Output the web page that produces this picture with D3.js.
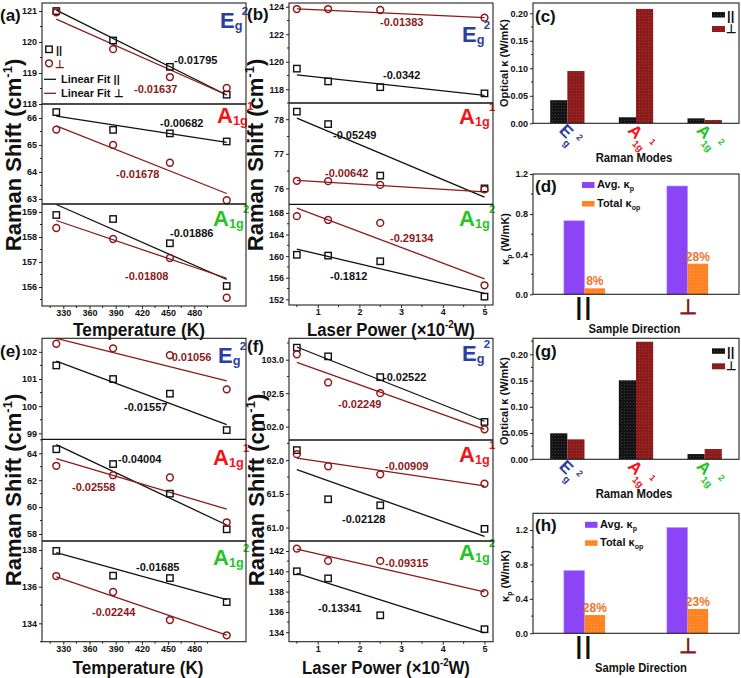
<!DOCTYPE html>
<html>
<head>
<meta charset="utf-8">
<script src="https://cdn.jsdelivr.net/npm/d3@7"></script>
<style>
html,body{margin:0;padding:0;background:#fff;}
svg{display:block;}
text{font-family:"Liberation Sans",Arial,Helvetica,sans-serif;font-weight:bold;}
</style>
</head>
<body>
<svg id="chart" width="741" height="678"></svg>
<script>
// ================= DATA =================
const temps = [323, 373, 423, 473];
const tempFitEnds = [323, 473];
const tempTicks = [330, 360, 390, 420, 450, 480];
const powers = [0.5, 1.25, 2.5, 5];
const powerFitEnds = [0.5, 5];
const powerTicks = [1, 2, 3, 4, 5];

const modes = ["Eg2", "A1g1", "A1g2"];
const modeMain = ["E", "A", "A"];
const modeSub = ["g", "1g", "1g"];
const modeSup = ["2", "1", "2"];

// (a) temperature, sample 1
const aEgPar = [121.0, 120.05, 119.2, 118.3];
const aEgPerp = [120.96, 119.77, 118.87, 118.52];
const aEgFitPar = [121.03, 118.29];
const aEgFitPerp = [120.74, 118.29];
const aEgSlopes = ["-0.01795", "-0.01637"];
const aA1Par = [66.22, 65.56, 65.43, 65.13];
const aA1Perp = [65.57, 65.0, 64.34, 62.95];
const aA1FitPar = [66.07, 65.1];
const aA1FitPerp = [65.71, 63.2];
const aA1Slopes = ["-0.00682", "-0.01678"];
const aA2Par = [158.88, 158.72, 157.75, 156.04];
const aA2Perp = [158.36, 157.92, 157.16, 155.57];
const aA2FitPar = [159.3, 156.3];
const aA2FitPerp = [158.66, 156.35];
const aA2Slopes = ["-0.01886", "-0.01808"];

// (b) laser power, sample 1
const bEgPar = [119.5, 118.57, 118.15, 117.7];
const bEgPerp = [123.83, 123.83, 123.76, 123.2];
const bEgFitPar = [119.05, 117.55];
const bEgFitPerp = [123.84, 123.2];
const bEgSlopes = ["-0.0342", "-0.01383"];
const bA1Par = [78.22, 77.86, 76.37, 76.0];
const bA1Perp = [76.22, 76.21, 76.1, 75.97];
const bA1FitPar = [78.03, 75.75];
const bA1FitPerp = [76.23, 75.9];
const bA1Slopes = ["-0.05249", "-0.00642"];
const bA2Par = [160.25, 160.1, 159.05, 152.5];
const bA2Perp = [167.4, 166.7, 166.15, 154.6];
const bA2FitPar = [161.3, 153.1];
const bA2FitPerp = [168.9, 155.8];
const bA2Slopes = ["-0.1812", "-0.29134"];

// (c) optical kappa per mode, sample 1
const cPar = [0.042, 0.011, 0.009];
const cPerp = [0.095, 0.208, 0.006];

// (d) phonon kappa per direction, sample 1
const directions = ["||", "⊥"];
const dAvg = [0.733, 1.08];
const dTotal = [0.06, 0.305];
const dPct = ["8%", "28%"];

// (e) temperature, sample 2
const eEgPar = [101.5, 101.0, 100.46, 99.12];
const eEgPerp = [102.3, 102.13, 101.88, 100.62];
const eEgFitPar = [101.66, 99.32];
const eEgFitPerp = [102.5, 100.93];
const eEgSlopes = ["-0.01557", "-0.01056"];
const eA1Par = [64.3, 63.2, 61.0, 58.35];
const eA1Perp = [63.07, 62.37, 62.2, 58.87];
const eA1FitPar = [64.65, 58.67];
const eA1FitPerp = [63.6, 59.85];
const eA1Slopes = ["-0.04004", "-0.02558"];
const eA2Par = [137.95, 136.6, 136.47, 135.16];
const eA2Perp = [136.58, 135.71, 134.18, 133.35];
const eA2FitPar = [137.85, 135.3];
const eA2FitPerp = [136.54, 133.36];
const eA2Slopes = ["-0.01685", "-0.02244"];

// (f) laser power, sample 2
const fEgPar = [103.18, 103.05, 102.74, 102.07];
const fEgPerp = [103.08, 102.66, 102.5, 101.96];
const fEgFitPar = [103.19, 102.08];
const fEgFitPerp = [102.96, 101.96];
const fEgSlopes = ["-0.02522", "-0.02249"];
const fA1Par = [62.15, 61.42, 61.33, 60.98];
const fA1Perp = [62.09, 61.91, 61.79, 61.65];
const fA1FitPar = [61.86, 60.87];
const fA1FitPerp = [62.03, 61.62];
const fA1Slopes = ["-0.02128", "-0.00909"];
const fA2Par = [140.0, 139.3, 135.67, 134.3];
const fA2Perp = [142.23, 141.02, 141.02, 137.85];
const fA2FitPar = [139.8, 133.95];
const fA2FitPerp = [142.17, 137.98];
const fA2Slopes = ["-0.13341", "-0.09315"];

// (g) optical kappa per mode, sample 2
const gPar = [0.0495, 0.1505, 0.010];
const gPerp = [0.038, 0.224, 0.0196];

// (h) phonon kappa per direction, sample 2
const hAvg = [0.728, 1.228];
const hTotal = [0.213, 0.283];
const hPct = ["28%", "23%"];

// ================= STYLE =================
const FONT = '"Liberation Sans", Arial, Helvetica, sans-serif';
const BLK = "#111", DRED = "#8b1a1a", BLUE = "#2c3e9e", RED = "#f2141b", GREEN = "#25c425";
const PURPLE = "#8b45f6", ORANGE = "#ff8424", PCT = "#f0742a";

const svg = d3.select("#chart");
const defs = svg.append("defs");
function pattern(id, base, dot) {
  const p = defs.append("pattern").attr("id", id).attr("width", 3).attr("height", 3)
    .attr("patternUnits", "userSpaceOnUse");
  p.append("rect").attr("width", 3).attr("height", 3).attr("fill", base);
  p.append("rect").attr("width", 1).attr("height", 1).attr("fill", dot);
}
pattern("pBlack", "#141414", "#3c3c3c");
pattern("pRed", "#8c1b1b", "#a13131");
pattern("pOrange", "#ff8222", "#ff9b4a");

function styleAxis(sel, size) {
  sel.attr("font-family", FONT).attr("font-size", size).attr("font-weight", "bold");
  sel.selectAll("path.domain").remove();
  sel.selectAll(".tick line").attr("stroke", "#222");
  sel.selectAll(".tick text").attr("fill", "#111");
}

function modeText(g, i, x, y, size, rotate, subDy, supDy) {
  const colors = [BLUE, RED, GREEN];
  const t = g.append("text").attr("fill", colors[i]).attr("font-size", size);
  if (rotate) t.attr("transform", `translate(${x},${y}) rotate(45)`);
  else t.attr("x", x).attr("y", y);
  t.append("tspan").text(modeMain[i]);
  t.append("tspan").attr("font-size", size * 0.58).attr("dy", size * subDy).text(modeSub[i]);
  t.append("tspan").attr("font-size", size * 0.52).attr("dx", -size * 0.03)
    .attr("dy", -size * supDy).text(modeSup[i]);
}

function squeeze(gSel, cx, y, target) {
  const w = gSel.node().getBBox().width;
  gSel.attr("transform", `translate(${cx},${y}) scale(${target / w},1)`);
}

// ================= LINE PANELS =================
const tempX = d3.scaleLinear().domain([323, 473]).range([56.3, 226.7]);
const tempAxisX = d3.scaleLinear().domain([330, 480]).range([63.3, 194.3]);
const powerX = d3.scaleLinear().domain([0, 5]).range([276, 484.5]);

const tempCfg = { xs: tempX, xa: tempAxisX, xTicks: tempTicks, xMinor: d3.range(315, 500, 30),
  xVals: temps, fitX: tempFitEnds, fmtX: "d", kind: "temp" };
const powCfg = { xs: powerX, xa: powerX, xTicks: powerTicks, xMinor: d3.range(0.5, 5, 1),
  xVals: powers, fitX: powerFitEnds, fmtX: "d", kind: "power" };

const linePanels = [
  Object.assign({ label: "(a)", lp: [0, 21], x0: 42, x1: 246, top: 3, bottom: 306,
    xt: [139, 336, 132], yt: [21, 155], subs: [
    { y0: 3, y1: 104, dom: [118, 121.26], ticks: [118, 119, 120, 121], ms: 0.5, fmt: "d",
      par: aEgPar, perp: aEgPerp, fPar: aEgFitPar, fPerp: aEgFitPerp, sl: aEgSlopes,
      sp: [[174, 64], [134, 93]], mode: 0, mp: [220, 28] },
    { y0: 104, y1: 204, dom: [62.81, 66.52], ticks: [63, 64, 65, 66], ms: 0.5, fmt: "d",
      par: aA1Par, perp: aA1Perp, fPar: aA1FitPar, fPerp: aA1FitPerp, sl: aA1Slopes,
      sp: [[160, 127], [116, 178]], mode: 1, mp: [217, 123] },
    { y0: 204, y1: 306, dom: [155.24, 159.32], ticks: [156, 157, 158, 159], ms: 0.5, fmt: "d",
      par: aA2Par, perp: aA2Perp, fPar: aA2FitPar, fPerp: aA2FitPerp, sl: aA2Slopes,
      sp: [[170, 237], [125, 280]], mode: 2, mp: [213, 226] }
  ] }, tempCfg),
  Object.assign({ label: "(b)", lp: [247, 20], x0: 289, x1: 493, top: 3, bottom: 305,
    xt: [391, 336, 168], yt: [263, 155], subs: [
    { y0: 3, y1: 103, dom: [117.0, 124.27], ticks: [118, 120, 122, 124], ms: 1, fmt: "d",
      par: bEgPar, perp: bEgPerp, fPar: bEgFitPar, fPerp: bEgFitPerp, sl: bEgSlopes,
      sp: [[383, 79], [380, 26]], mode: 0, mp: [462, 42] },
    { y0: 103, y1: 204.3, dom: [75.54, 78.47], ticks: [76, 77, 78], ms: 0.5, fmt: "d",
      par: bA1Par, perp: bA1Perp, fPar: bA1FitPar, fPerp: bA1FitPerp, sl: bA1Slopes,
      sp: [[333, 139], [325, 177]], mode: 1, mp: [459, 124] },
    { y0: 204.3, y1: 305, dom: [150.95, 169.6], ticks: [152, 156, 160, 164, 168], ms: 2, fmt: "d",
      par: bA2Par, perp: bA2Perp, fPar: bA2FitPar, fPerp: bA2FitPerp, sl: bA2Slopes,
      sp: [[330, 280], [390, 242]], mode: 2, mp: [459, 226] }
  ] }, powCfg),
  Object.assign({ label: "(e)", lp: [0, 357], x0: 42, x1: 246, top: 338.3, bottom: 641.7,
    xt: [138, 673.5, 131], yt: [21, 490], subs: [
    { y0: 338.3, y1: 439.3, dom: [98.78, 102.5], ticks: [99, 100, 101, 102], ms: 0.5, fmt: "d",
      par: eEgPar, perp: eEgPerp, fPar: eEgFitPar, fPerp: eEgFitPerp, sl: eEgSlopes,
      sp: [[124, 411], [168, 361]], mode: 0, mp: [218, 363] },
    { y0: 439.3, y1: 541, dom: [57.48, 65.04], ticks: [58, 60, 62, 64], ms: 1, fmt: "d",
      par: eA1Par, perp: eA1Perp, fPar: eA1FitPar, fPerp: eA1FitPerp, sl: eA1Slopes,
      sp: [[118, 463], [72, 491]], mode: 1, mp: [213, 465] },
    { y0: 541, y1: 641.7, dom: [133.0, 138.49], ticks: [134, 136, 138], ms: 1, fmt: "d",
      par: eA2Par, perp: eA2Perp, fPar: eA2FitPar, fPerp: eA2FitPerp, sl: eA2Slopes,
      sp: [[136, 571], [92, 616]], mode: 2, mp: [213, 565] }
  ] }, tempCfg),
  Object.assign({ label: "(f)", lp: [247, 352], x0: 289, x1: 493, top: 338.3, bottom: 641.7,
    xt: [386, 673.5, 168], yt: [264, 490], subs: [
    { y0: 338.3, y1: 440, dom: [101.8, 103.32], ticks: [102, 102.5, 103], ms: 0.25, fmt: ".1f",
      par: fEgPar, perp: fEgPerp, fPar: fEgFitPar, fPerp: fEgFitPerp, sl: fEgSlopes,
      sp: [[383, 381], [338, 408]], mode: 0, mp: [462, 361] },
    { y0: 440, y1: 541, dom: [60.8, 62.3], ticks: [61, 61.5, 62], ms: 0.25, fmt: ".1f",
      par: fA1Par, perp: fA1Perp, fPar: fA1FitPar, fPerp: fA1FitPerp, sl: fA1Slopes,
      sp: [[342, 523], [385, 470]], mode: 1, mp: [459, 462] },
    { y0: 541, y1: 641.7, dom: [133.07, 142.98], ticks: [134, 136, 138, 140, 142], ms: 1, fmt: "d",
      par: fA2Par, perp: fA2Perp, fPar: fA2FitPar, fPerp: fA2FitPerp, sl: fA2Slopes,
      sp: [[318, 612], [385, 567]], mode: 2, mp: [459, 560] }
  ] }, powCfg)
];

function linePanel(P) {
  const g = svg.append("g");
  P.subs.forEach(S => {
    const y = d3.scaleLinear().domain(S.dom).range([S.y1, S.y0]);
    const ag = g.append("g").attr("transform", `translate(${P.x0},0)`)
      .call(d3.axisLeft(y).tickValues(S.ticks).tickFormat(d3.format(S.fmt)).tickSize(3).tickPadding(2));
    styleAxis(ag, 9);
    const minor = d3.range(Math.ceil(S.dom[0] / S.ms) * S.ms, S.dom[1], S.ms)
      .filter(v => !S.ticks.some(t => Math.abs(t - v) < 1e-6));
    g.append("g").selectAll("line").data(minor).join("line")
      .attr("x1", P.x0 - 2).attr("x2", P.x0).attr("y1", d => y(d)).attr("y2", d => y(d))
      .attr("stroke", "#222");
    const line = d3.line().x((d, i) => P.xs(P.fitX[i])).y(d => y(d));
    g.append("path").attr("d", line(S.fPar)).attr("fill", "none").attr("stroke", BLK).attr("stroke-width", 1.3);
    g.append("path").attr("d", line(S.fPerp)).attr("fill", "none").attr("stroke", DRED).attr("stroke-width", 1.3);
    g.append("g").selectAll("rect").data(S.par).join("rect")
      .attr("x", (d, i) => P.xs(P.xVals[i]) - 3.2).attr("y", d => y(d) - 3.2)
      .attr("width", 6.4).attr("height", 6.4).attr("fill", "none").attr("stroke", BLK).attr("stroke-width", 1.4);
    g.append("g").selectAll("circle").data(S.perp).join("circle")
      .attr("cx", (d, i) => P.xs(P.xVals[i])).attr("cy", d => y(d)).attr("r", 3.4)
      .attr("fill", "none").attr("stroke", DRED).attr("stroke-width", 1.5);
    g.append("text").attr("x", S.sp[0][0]).attr("y", S.sp[0][1]).attr("font-size", 11).attr("fill", BLK).text(S.sl[0]);
    g.append("text").attr("x", S.sp[1][0]).attr("y", S.sp[1][1]).attr("font-size", 11).attr("fill", DRED).text(S.sl[1]);
    modeText(g, S.mode, S.mp[0], S.mp[1], 22, false, 0.08, 0.66);
    if (S.y0 > P.top + 1) {
      g.append("line").attr("x1", P.x0).attr("x2", P.x1).attr("y1", S.y0).attr("y2", S.y0)
        .attr("stroke", "#111").attr("stroke-width", 1.3);
    }
  });
  g.append("rect").attr("x", P.x0).attr("y", P.top).attr("width", P.x1 - P.x0).attr("height", P.bottom - P.top)
    .attr("fill", "none").attr("stroke", "#222").attr("stroke-width", 1.1);
  // x axis
  const xg = g.append("g").attr("transform", `translate(0,${P.bottom})`)
    .call(d3.axisBottom(P.xa).tickValues(P.xTicks).tickFormat(d3.format(P.fmtX)).tickSize(3).tickPadding(1));
  styleAxis(xg, 9);
  g.append("g").selectAll("line").data(P.xMinor).join("line")
    .attr("x1", d => P.xa(d)).attr("x2", d => P.xa(d)).attr("y1", P.bottom).attr("y2", P.bottom + 2).attr("stroke", "#222");
  // x title
  const xt = g.append("g");
  const xtt = xt.append("text").attr("text-anchor", "middle").attr("font-size", 19).attr("fill", "#111");
  if (P.kind === "temp") xtt.text("Temperature (K)");
  else {
    xtt.append("tspan").text("Laser Power (×10");
    xtt.append("tspan").attr("font-size", 11).attr("dy", -8).text("-2");
    xtt.append("tspan").attr("dy", 8).text("W)");
  }
  squeeze(xt, P.xt[0], P.xt[1], P.xt[2]);
  // y title
  const yt = g.append("text").attr("text-anchor", "middle").attr("font-size", 22).attr("fill", "#111")
    .attr("transform", `translate(${P.yt[0]},${P.yt[1]}) rotate(-90)`);
  yt.append("tspan").text("Raman Shift (cm");
  yt.append("tspan").attr("font-size", 13).attr("dy", -9).text("-1");
  yt.append("tspan").attr("dy", 9).text(")");
  g.append("text").attr("x", P.lp[0]).attr("y", P.lp[1]).attr("font-size", 17).attr("fill", "#111").text(P.label);
}
linePanels.forEach(linePanel);

// legend of (a)
{
  const g = svg.append("g");
  g.append("rect").attr("x", 45.8).attr("y", 46.1).attr("width", 6.4).attr("height", 6.4)
    .attr("fill", "none").attr("stroke", BLK).attr("stroke-width", 1.4);
  g.append("text").attr("x", 56).attr("y", 54).attr("font-size", 11).attr("fill", BLK).text(directions[0]);
  g.append("circle").attr("cx", 49).attr("cy", 63.3).attr("r", 3.4).attr("fill", "none")
    .attr("stroke", DRED).attr("stroke-width", 1.5);
  g.append("text").attr("x", 55).attr("y", 68).attr("font-size", 11).attr("fill", DRED).text(directions[1]);
  g.append("line").attr("x1", 44).attr("x2", 56).attr("y1", 79.3).attr("y2", 79.3).attr("stroke", BLK).attr("stroke-width", 1.3);
  g.append("text").attr("x", 61).attr("y", 83).attr("font-size", 11).attr("fill", BLK).text("Linear Fit " + directions[0]);
  g.append("line").attr("x1", 44).attr("x2", 56).attr("y1", 93.3).attr("y2", 93.3).attr("stroke", DRED).attr("stroke-width", 1.3);
  g.append("text").attr("x", 61).attr("y", 97).attr("font-size", 11).attr("fill", BLK).text("Linear Fit " + directions[1]);
}

// ================= MODE BAR PANELS (c, g) =================
function modeBars(o) {
  const g = svg.append("g");
  const x = d3.scaleBand().domain(modes).range([o.x0, o.x1]);
  const y = d3.scaleLinear().domain([0, o.yMax]).range([o.bottom, o.top]);
  const w = x.bandwidth() * 0.25;
  const cx = i => x(modes[i]) + x.bandwidth() / 2;
  g.append("g").selectAll("rect").data(o.par).join("rect")
    .attr("x", (d, i) => cx(i) - w).attr("y", d => y(d)).attr("width", w).attr("height", d => o.bottom - y(d))
    .attr("fill", "url(#pBlack)");
  g.append("g").selectAll("rect").data(o.perp).join("rect")
    .attr("x", (d, i) => cx(i)).attr("y", d => y(d)).attr("width", w).attr("height", d => o.bottom - y(d))
    .attr("fill", "url(#pRed)");
  const ag = g.append("g").attr("transform", `translate(${o.x0},0)`)
    .call(d3.axisLeft(y).tickValues([0, 0.05, 0.1, 0.15, 0.2]).tickFormat(d3.format(".2f")).tickSize(3).tickPadding(2));
  styleAxis(ag, 9);
  g.append("g").selectAll("line").data(d3.range(0.025, o.yMax, 0.05)).join("line")
    .attr("x1", o.x0 - 2).attr("x2", o.x0).attr("y1", d => y(d)).attr("y2", d => y(d)).attr("stroke", "#222");
  g.append("rect").attr("x", o.x0).attr("y", o.top).attr("width", o.x1 - o.x0).attr("height", o.bottom - o.top)
    .attr("fill", "none").attr("stroke", "#222").attr("stroke-width", 1.1);
  modes.forEach((m, i) => modeText(g, i, cx(i) - 9, o.bottom + 8, 17, true, 0.35, 0.8));
  const xt = g.append("g");
  xt.append("text").attr("text-anchor", "middle").attr("font-size", 12).attr("fill", "#111").text("Raman Modes");
  squeeze(xt, 634, o.bottom + 38.5, 77);
  g.append("text").attr("text-anchor", "middle").attr("font-size", 11).attr("fill", "#111")
    .attr("transform", `translate(508,${o.yc}) rotate(-90)`).text("Optical κ (W/mK)");
  // legend
  g.append("rect").attr("x", 712).attr("y", o.top + o.lg[0]).attr("width", 13).attr("height", 5.5).attr("fill", "url(#pBlack)");
  g.append("text").attr("x", 727).attr("y", o.top + o.lg[0] + 8).attr("font-size", 13).attr("fill", "#111").text(directions[0]);
  g.append("rect").attr("x", 712).attr("y", o.top + o.lg[1]).attr("width", 13).attr("height", 6).attr("fill", "url(#pRed)");
  g.append("text").attr("x", 726).attr("y", o.top + o.lg[1] + 7).attr("font-size", 12).attr("fill", "#111").text(directions[1]);
  g.append("text").attr("x", 535).attr("y", o.top + 19).attr("font-size", 17).attr("fill", "#111").text(o.label);
}
modeBars({ label: "(c)", x0: 533, x1: 739, top: 3, bottom: 123.3, yMax: 0.2187, par: cPar, perp: cPerp, yc: 63, lg: [9, 23] });
modeBars({ label: "(g)", x0: 533, x1: 739, top: 338.3, bottom: 459.3, yMax: 0.2305, par: gPar, perp: gPerp, yc: 401, lg: [10, 25] });

// ================= DIRECTION BAR PANELS (d, h) =================
function dirBars(o) {
  const g = svg.append("g");
  const x = d3.scaleBand().domain(directions).range([o.x0, o.x1]);
  const y = d3.scaleLinear().domain([0, o.yMax]).range([o.bottom, o.top]);
  const w = x.bandwidth() * 0.2;
  const cx = i => x(directions[i]) + x.bandwidth() / 2;
  g.append("g").selectAll("rect").data(o.avg).join("rect")
    .attr("x", (d, i) => cx(i) - w).attr("y", d => y(d)).attr("width", w).attr("height", d => o.bottom - y(d))
    .attr("fill", PURPLE).attr("stroke", "#b090ff").attr("stroke-width", 0.6);
  g.append("g").selectAll("rect").data(o.total).join("rect")
    .attr("x", (d, i) => cx(i)).attr("y", d => y(d)).attr("width", w).attr("height", d => o.bottom - y(d))
    .attr("fill", "url(#pOrange)");
  g.append("g").selectAll("text").data(o.pct).join("text")
    .attr("x", (d, i) => cx(i) + w / 2).attr("y", (d, i) => y(o.total[i]) - 3)
    .attr("text-anchor", "middle").attr("font-size", 12).attr("fill", PCT).text(d => d);
  const ag = g.append("g").attr("transform", `translate(${o.x0},0)`)
    .call(d3.axisLeft(y).tickValues([0, 0.4, 0.8, 1.2]).tickFormat(d3.format(".1f")).tickSize(3).tickPadding(2));
  styleAxis(ag, 9);
  g.append("g").selectAll("line").data(d3.range(0.2, o.yMax, 0.4)).join("line")
    .attr("x1", o.x0 - 2).attr("x2", o.x0).attr("y1", d => y(d)).attr("y2", d => y(d)).attr("stroke", "#222");
  g.append("rect").attr("x", o.x0).attr("y", o.top).attr("width", o.x1 - o.x0).attr("height", o.bottom - o.top)
    .attr("fill", "none").attr("stroke", "#222").attr("stroke-width", 1.1);
  // direction tick labels
  g.append("text").attr("x", cx(0)).attr("y", o.bottom + 21).attr("text-anchor", "middle")
    .attr("font-size", 24).attr("letter-spacing", 2.3).attr("font-weight", "normal").attr("fill", "#111").text(directions[0]);
  g.append("text").attr("x", cx(1)).attr("y", o.bottom + 20).attr("text-anchor", "middle")
    .attr("font-size", 21).attr("font-weight", "normal").attr("fill", DRED).text(directions[1]);
  const xt = g.append("g");
  xt.append("text").attr("text-anchor", "middle").attr("font-size", 12).attr("fill", "#111").text("Sample Direction");
  squeeze(xt, o.xtc, o.bottom + 38.5, 92);
  const yt = g.append("text").attr("text-anchor", "middle").attr("font-size", 11).attr("fill", "#111")
    .attr("transform", `translate(509,${o.yc}) rotate(-90)`);
  yt.append("tspan").text("κ");
  yt.append("tspan").attr("font-size", 7).attr("dy", 3).text("p");
  yt.append("tspan").attr("dy", -3).text(" (W/mK)");
  // legend
  g.append("rect").attr("x", o.lgx).attr("y", o.top + o.lg[0]).attr("width", 12.5).attr("height", 6).attr("fill", PURPLE);
  const t1 = g.append("text").attr("x", o.lgx + 15).attr("y", o.top + o.lg[0] + 6).attr("font-size", 11).attr("fill", "#111");
  t1.append("tspan").text("Avg. κ");
  t1.append("tspan").attr("font-size", 7).attr("dy", 3).text("p");
  g.append("rect").attr("x", o.lgx).attr("y", o.top + o.lg[1]).attr("width", 12.5).attr("height", 5.5).attr("fill", "url(#pOrange)");
  const t2 = g.append("text").attr("x", o.lgx + 15).attr("y", o.top + o.lg[1] + 6).attr("font-size", 11).attr("fill", "#111");
  t2.append("tspan").text("Total κ");
  t2.append("tspan").attr("font-size", 7).attr("dy", 3).text("op");
  g.append("text").attr("x", 535).attr("y", o.top + 18).attr("font-size", 17).attr("fill", "#111").text(o.label);
}
dirBars({ label: "(d)", x0: 533, x1: 739, top: 174, bottom: 294.3, yMax: 1.2, avg: dAvg, total: dTotal, pct: dPct,
  yc: 239, lg: [8, 27], lgx: 582, xtc: 634.5 });
dirBars({ label: "(h)", x0: 533, x1: 739, top: 513.3, bottom: 633.3, yMax: 1.394, avg: hAvg, total: hTotal, pct: hPct,
  yc: 576, lg: [8.5, 27], lgx: 585, xtc: 641 });
</script>
</body>
</html>
